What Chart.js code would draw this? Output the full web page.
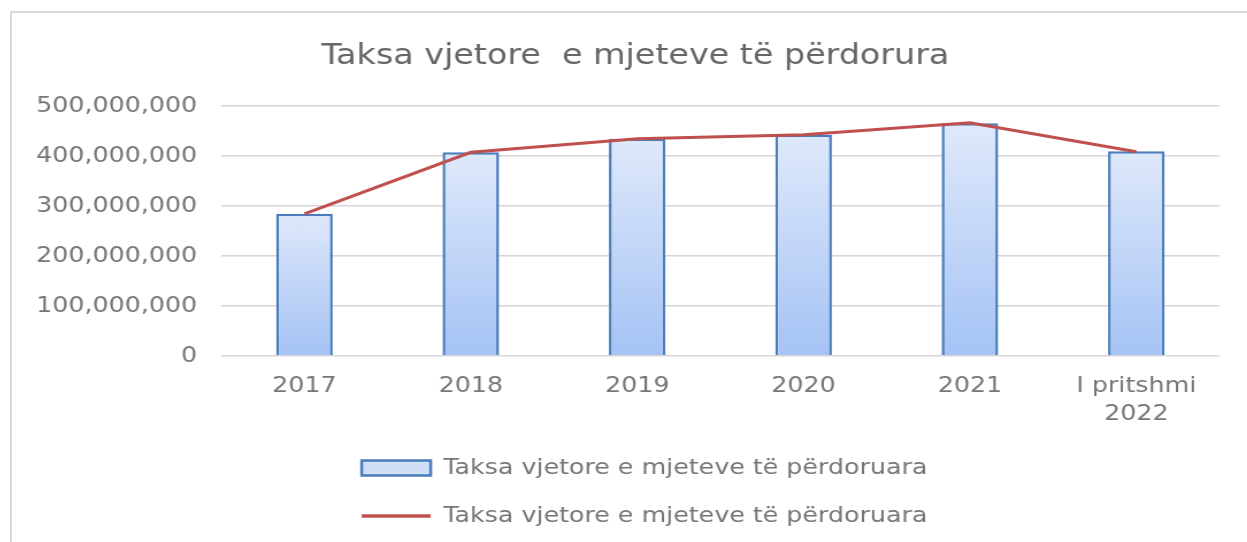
<!DOCTYPE html>
<html>
<head>
<meta charset="utf-8">
<script src="https://cdn.jsdelivr.net/npm/chart.js@4"></script>
<style>
  body { margin: 0; background: #fff; overflow: hidden; }
  #frame {
    position: absolute; left: 10px; top: 11px; width: 1300px; height: 600px;
    border-left: 2px solid #d9d9d9; border-top: 2px solid #d9d9d9;
  }
  #myChart { transform: scaleX(1.15); transform-origin: 0 0; }
</style>
</head>
<body>
<div id="frame"><canvas id="myChart" width="1074" height="538"></canvas></div>
<script>
// Te dhenat e grafikut
var categories = ['2017', '2018', '2019', '2020', '2021', ['I pritshmi', '2022']];
var barValues = [284000000, 407000000, 434000000, 442000000, 465000000, 409000000];
var lineValues = [284000000, 407000000, 434000000, 442000000, 466000000, 408000000];
var yTicks = [0, 100000000, 200000000, 300000000, 400000000, 500000000];
var seriesName = 'Taksa vjetore e mjeteve të përdoruara';
var titleText = 'Taksa vjetore  e mjeteve të përdorura';

var font = 'DejaVu Sans';
var gray = '#767676';

// gradient per cdo shtylle (lart e celet, poshte me e erret)
function barGradient(context) {
  var chart = context.chart;
  if (!chart.chartArea || !chart.scales.y || context.dataIndex === undefined) return '#cfdff8';
  var y = chart.scales.y;
  var top = y.getPixelForValue(barValues[context.dataIndex]);
  var bottom = y.getPixelForValue(0);
  var g = chart.ctx.createLinearGradient(0, top, 0, bottom);
  g.addColorStop(0, '#dfe9fb');
  g.addColorStop(1, '#a5c3f5');
  return g;
}

// zhvendos pak titullin dhe legjenden si ne origjinal
var nudge = {
  id: 'nudge',
  afterLayout: function(chart) {
    var t = chart.titleBlock;
    if (t) { t.left += 17; t.right += 17; }
    var l = chart.legend;
    if (l) { l.left += 25; l.right += 25; l.top -= 14; l.bottom -= 14; }
  }
};

var ctx = document.getElementById('myChart').getContext('2d');
new Chart(ctx, {
  type: 'bar',
  data: {
    labels: categories,
    datasets: [{
      type: 'bar',
      label: seriesName,
      data: barValues,
      backgroundColor: barGradient,
      borderColor: '#4a7dba',
      borderWidth: 2.5,
      barPercentage: 0.34,
      categoryPercentage: 1,
      order: 1
    }, {
      type: 'line',
      label: seriesName,
      data: lineValues,
      borderColor: '#c0504d',
      backgroundColor: '#c0504d',
      borderWidth: 3,
      pointRadius: 0,
      tension: 0,
      fill: false,
      order: 0
    }]
  },
  plugins: [nudge],
  options: {
    responsive: false,
    animation: false,
    layout: { padding: { left: 0, right: 24, top: 0, bottom: 0 } },
    plugins: {
      title: {
        display: true,
        text: titleText,
        color: '#666666',
        font: { family: font, size: 29, weight: 'normal' },
        padding: { top: 26, bottom: 32 }
      },
      legend: {
        position: 'bottom',
        labels: {
          color: gray,
          font: { family: font, size: 22 },
          usePointStyle: true,
          pointStyleWidth: 60,
          boxHeight: 15,
          padding: 26,
          sort: function(a, b) { return a.datasetIndex - b.datasetIndex; },
          generateLabels: function(chart) {
            var items = Chart.defaults.plugins.legend.labels.generateLabels(chart);
            items.forEach(function(it) {
              if (it.datasetIndex === 0) {
                it.pointStyle = 'rect';
                it.fillStyle = '#cfdff8';
                it.strokeStyle = '#4a7dba';
                it.lineWidth = 2.5;
              } else {
                it.pointStyle = 'line';
                it.strokeStyle = '#c0504d';
                it.lineWidth = 3.5;
              }
            });
            return items;
          }
        }
      },
      tooltip: { enabled: false }
    },
    scales: {
      x: {
        grid: { display: false, drawTicks: false },
        border: { display: false },
        ticks: {
          color: gray,
          font: { family: font, size: 22, lineHeight: 1.3 },
          padding: 16,
          maxRotation: 0
        }
      },
      y: {
        min: 0,
        max: 500000000,
        afterBuildTicks: function(axis) {
          axis.ticks = yTicks.map(function(v) { return { value: v }; });
        },
        grid: { color: '#d6d6d6', lineWidth: 1.5, drawTicks: false },
        border: { display: false },
        ticks: {
          color: gray,
          font: { family: font, size: 22 },
          padding: 21,
          callback: function(v) { return Number(v).toLocaleString('en-US'); }
        }
      }
    }
  }
});
</script>
</body>
</html>
